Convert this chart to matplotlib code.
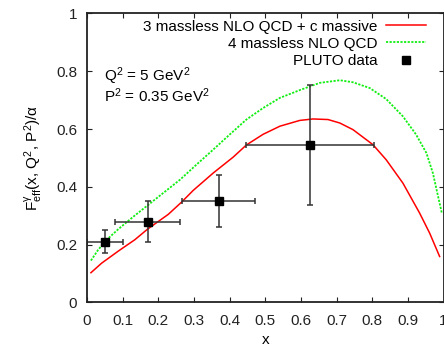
import matplotlib
matplotlib.use("Agg")
import matplotlib.pyplot as plt

plt.rcParams['font.family'] = ['Liberation Sans', 'DejaVu Sans']
plt.rcParams['mathtext.default'] = 'regular'

# Curves
red_x = [0.011, 0.041, 0.088, 0.134, 0.170, 0.228, 0.265, 0.298, 0.354, 0.410,
         0.447, 0.494, 0.541, 0.597, 0.634, 0.676, 0.709, 0.746, 0.802, 0.839,
         0.886, 0.933, 0.961, 0.989]
red_y = [0.103, 0.136, 0.178, 0.217, 0.254, 0.305, 0.347, 0.388, 0.448, 0.503,
         0.545, 0.582, 0.610, 0.630, 0.635, 0.633, 0.621, 0.598, 0.546, 0.494,
         0.413, 0.309, 0.240, 0.159]

green_x = [0.011, 0.030, 0.050, 0.088, 0.130, 0.170, 0.215, 0.261, 0.307, 0.354,
           0.400, 0.447, 0.494, 0.541, 0.597, 0.653, 0.709, 0.746, 0.793, 0.839,
           0.886, 0.923, 0.952, 0.970, 0.995]
green_y = [0.145, 0.180, 0.211, 0.254, 0.297, 0.336, 0.380, 0.425, 0.477, 0.529,
           0.581, 0.633, 0.673, 0.708, 0.735, 0.760, 0.769, 0.762, 0.742, 0.704,
           0.644, 0.581, 0.517, 0.448, 0.310]

# PLUTO data
data_x = [0.05, 0.17, 0.37, 0.625]
data_y = [0.21, 0.28, 0.35, 0.545]
data_xlo = [0.05, 0.092, 0.104, 0.18]
data_xhi = [0.05, 0.09, 0.10, 0.18]
data_yerr = [0.04, 0.07, 0.09, 0.207]

xticks = [0, 0.1, 0.2, 0.3, 0.4, 0.5, 0.6, 0.7, 0.8, 0.9, 1]
xticklabels = ['0', '0.1', '0.2', '0.3', '0.4', '0.5', '0.6', '0.7', '0.8', '0.9', '1']
yticks = [0, 0.2, 0.4, 0.6, 0.8, 1]
yticklabels = ['0', '0.2', '0.4', '0.6', '0.8', '1']

fig = plt.figure(figsize=(4.44, 3.55), dpi=100)
ax = fig.add_axes([0.196, 0.148, 0.803, 0.814])

ax.plot(red_x, red_y, color='#ff0000', lw=1.1,
        label='3 massless NLO QCD + c massive')
ax.plot(green_x, green_y, color='#11ee11', lw=1.3, linestyle=(0, (1.2, 0.8)),
        label='4 massless NLO QCD')
ax.errorbar(data_x, data_y, xerr=[data_xlo, data_xhi], yerr=data_yerr,
            fmt='none', ecolor='#333333', elinewidth=1.1,
            capsize=2.2, capthick=1.1)
ax.plot(data_x, data_y, 's', color='black', ms=6, label='PLUTO data')

ax.set_xlim(0, 1)
ax.set_ylim(0, 1)
ax.set_xticks(xticks)
ax.set_xticklabels(xticklabels)
ax.set_yticks(yticks)
ax.set_yticklabels(yticklabels)
ax.tick_params(direction='in', top=True, right=True, length=3.5, width=0.8,
               labelsize=11, pad=7, colors='#222222')
ax.tick_params(axis='x', pad=8)
for s in ax.spines.values():
    s.set_linewidth(1.3)
    s.set_color('#222222')

ax.set_xlabel('x', fontsize=11, labelpad=4)
ax.set_ylabel(r'F$^{\gamma}_{eff}$(x, Q$^2$, P$^2$)/α', fontsize=11, labelpad=8)

ax.text(0.047, 0.765, r'Q$^2$ = 5 GeV$^2$', fontsize=11, va='baseline')
ax.text(0.047, 0.694, r'P$^2$ = 0.35 GeV$^2$', fontsize=11, va='baseline')

handles, labels = ax.get_legend_handles_labels()
leg = ax.legend(handles, labels, loc='upper right', markerfirst=False,
                frameon=False, fontsize=11, handlelength=2.6,
                handletextpad=0.6, labelspacing=0.21,
                borderaxespad=0.0, bbox_to_anchor=(0.968, 1.0))

fig.savefig('out.png', dpi=100)
